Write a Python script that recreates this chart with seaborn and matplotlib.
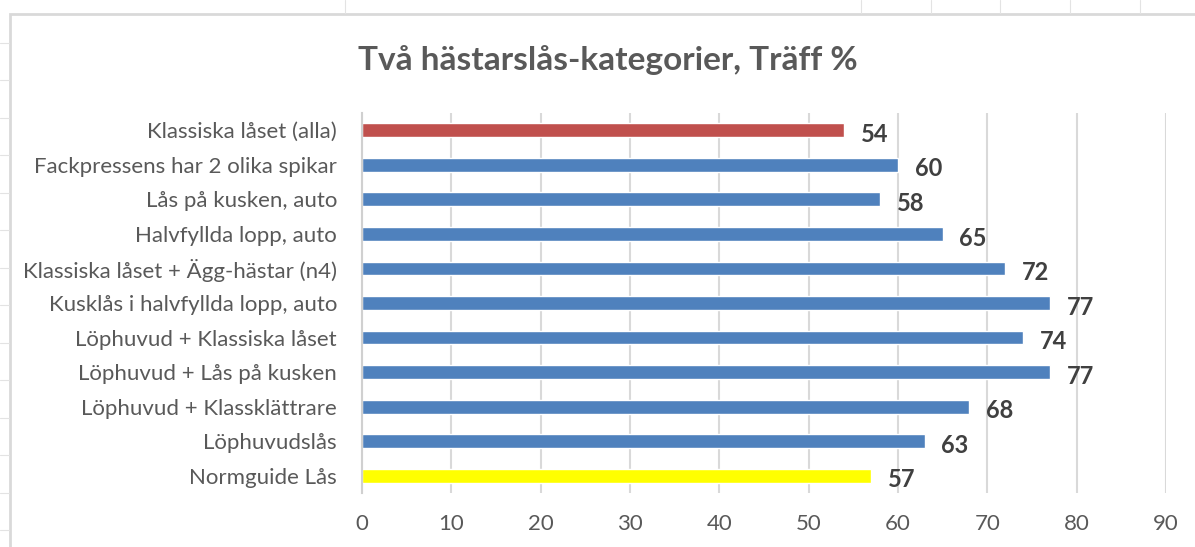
import matplotlib
matplotlib.use("Agg")
import matplotlib.pyplot as plt
import seaborn as sns
import pandas as pd
from matplotlib.lines import Line2D
from matplotlib.patches import Rectangle

categories = [
    "Klassiska låset (alla)",
    "Fackpressens har 2 olika spikar",
    "Lås på kusken, auto",
    "Halvfyllda lopp, auto",
    "Klassiska låset + Ägg-hästar (n4)",
    "Kusklås i halvfyllda lopp, auto",
    "Löphuvud + Klassiska låset",
    "Löphuvud + Lås på kusken",
    "Löphuvud + Klassklättrare",
    "Löphuvudslås",
    "Normguide Lås",
]
values = [54, 60, 58, 65, 72, 77, 74, 77, 68, 63, 57]
bar_colors = ["#C0504D"] + ["#4F81BD"] * 9 + ["#FFFF00"]
x_ticks = [0, 10, 20, 30, 40, 50, 60, 70, 80, 90]

sns.set_style("white")
plt.rcParams["font.family"] = ["Lato", "DejaVu Sans"]

df = pd.DataFrame({"kategori": categories, "traff": values})

fig = plt.figure(figsize=(11.95, 5.47), dpi=100)
fig.patch.set_facecolor("white")

# spreadsheet background: cell marks and chart frame
for yy in [43, 80, 118, 155, 193, 230, 268, 305, 343, 380, 418, 455, 493, 530]:
    fig.add_artist(Line2D([0, 9 / 1195], [1 - yy / 547] * 2, color="#e3e3e3", lw=0.8))
for xx in [345, 861, 931, 1000, 1070, 1140]:
    fig.add_artist(Line2D([xx / 1195] * 2, [1, 1 - 13 / 547], color="#e3e3e3", lw=0.8))
fig.add_artist(Rectangle((10 / 1195, -0.05), 1.1, 1 - 14 / 547 + 0.05,
                         transform=fig.transFigure, fill=False,
                         edgecolor="#d9d9d9", lw=2))

ax = fig.add_axes([362 / 1195, 1 - 493 / 547, (1166 - 362) / 1195, 380 / 547])
sns.barplot(data=df, x="traff", y="kategori", hue="kategori", palette=bar_colors,
            saturation=1, legend=False, width=0.4, ax=ax, orient="h")

for cont in ax.containers:
    anns = ax.bar_label(cont, padding=12, fontsize=17, fontweight="bold", color="#404040")
    for a in anns:
        a.xyann = (12, -3)

ax.set_xlim(0, 90)
ax.set_ylim(10.5, -0.5)
ax.set_xticks(x_ticks)
ax.xaxis.grid(True, color="#d9d9d9", lw=1.5)
ax.set_axisbelow(True)
ax.set_xlabel("")
ax.set_ylabel("")
for side in ["top", "right", "bottom"]:
    ax.spines[side].set_visible(False)
ax.spines["left"].set_color("#d0d0d0")
ax.spines["left"].set_linewidth(1.5)
ax.tick_params(axis="y", length=0, pad=18, labelsize=16, labelcolor="#595959")
ax.tick_params(axis="x", length=0, pad=15, labelsize=16, labelcolor="#595959")

fig.text(608 / 1195, 1 - 60 / 547, "Två hästarslås-kategorier, Träff %",
         ha="center", va="center", fontsize=24, fontweight="bold", color="#595959")

fig.savefig("out.png", dpi=100)
